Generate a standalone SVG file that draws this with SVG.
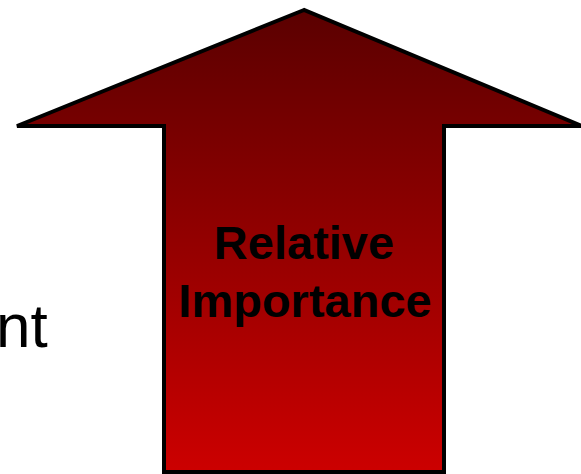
<svg xmlns="http://www.w3.org/2000/svg" width="581" height="474" viewBox="0 0 581 474">
<defs>
<linearGradient id="g" x1="0" y1="9" x2="0" y2="472" gradientUnits="userSpaceOnUse">
<stop offset="0" stop-color="#5A0000"/>
<stop offset="1" stop-color="#CC0000"/>
</linearGradient>
<style>
.lbl{font-family:"Liberation Sans",Arial,sans-serif;font-weight:bold;font-size:47px;fill:#000;text-anchor:middle}
.side{font-family:"Liberation Sans",Arial,sans-serif;font-size:62px;fill:#000}
</style>
</defs>
<text class="side" x="-4" y="347">nt</text>
<g id="arrow">
<polygon points="304,10 17,126 164,126 164,472 444,472 444,126 582,126" fill="url(#g)" stroke="#000" stroke-width="4" stroke-linejoin="miter"/>
<text class="lbl" x="304" y="259">Relative</text>
<text class="lbl" x="305" y="317">Importance</text>
</g>
</svg>
